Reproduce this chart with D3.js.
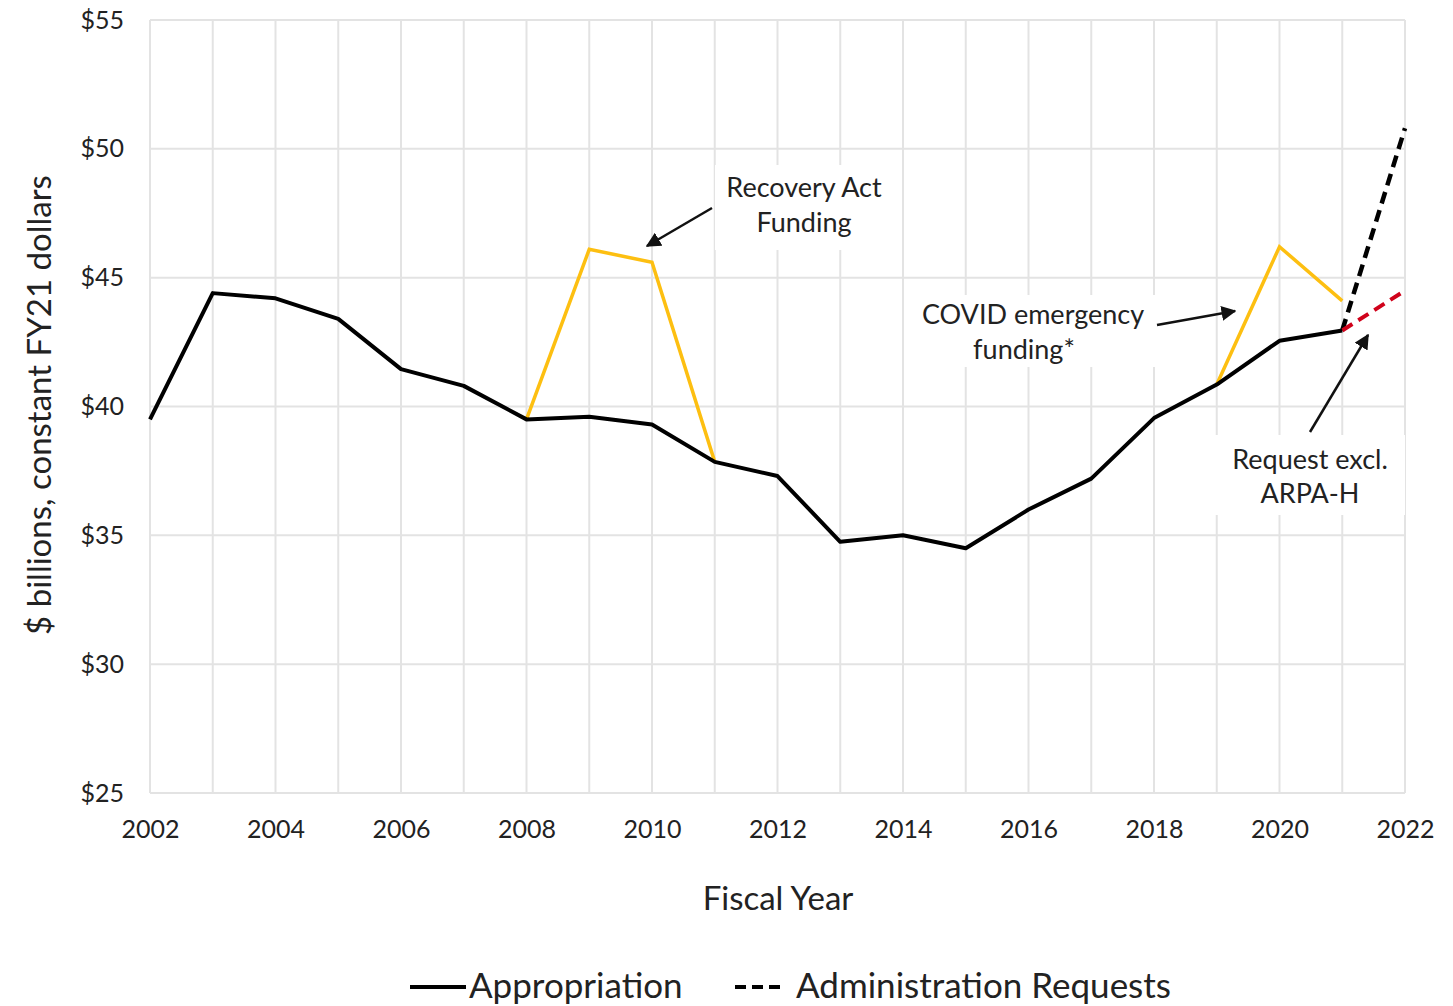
<!DOCTYPE html>
<html>
<head>
<meta charset="utf-8">
<script src="https://cdn.jsdelivr.net/npm/d3@7"></script>
<style>
  body { margin: 0; background: #fff; }
  text { font-family: Lato, "Open Sans", sans-serif; fill: #222; }
</style>
</head>
<body>
<svg id="chart"></svg>
<script>
// data
var years = [2002, 2003, 2004, 2005, 2006, 2007, 2008, 2009, 2010, 2011,
             2012, 2013, 2014, 2015, 2016, 2017, 2018, 2019, 2020, 2021];
var appropriation = [39.5, 44.4, 44.2, 43.4, 41.45, 40.8, 39.5, 39.6, 39.3, 37.85,
                     37.3, 34.75, 35.0, 34.5, 36.0, 37.2, 39.55, 40.85, 42.55, 42.95];
var recoveryYears = [2008, 2009, 2010, 2011];
var recoveryValues = [39.5, 46.1, 45.6, 37.85];
var covidYears = [2019, 2020, 2021];
var covidValues = [40.85, 46.2, 44.1];
var requestYears = [2021, 2022];
var requestValues = [42.95, 50.8];
var requestExclValues = [42.95, 44.5];
var yTicks = [25, 30, 35, 40, 45, 50, 55];
var xTicks = [2002, 2004, 2006, 2008, 2010, 2012, 2014, 2016, 2018, 2020, 2022];

var width = 1453, height = 1006;
var plotLeft = 150, plotRight = 1405, plotTop = 20, plotBottom = 793;

var svg = d3.select('#chart')
    .attr('width', width)
    .attr('height', height);

var x = d3.scaleLinear().domain([2002, 2022]).range([plotLeft, plotRight]);
var y = d3.scaleLinear().domain([25, 55]).range([plotBottom, plotTop]);

// grid
svg.append('g').selectAll('line')
  .data(d3.range(2002, 2023))
  .enter().append('line')
  .attr('x1', d => x(d)).attr('x2', d => x(d))
  .attr('y1', plotTop).attr('y2', plotBottom)
  .attr('stroke', '#e3e3e3').attr('stroke-width', 2);

svg.append('g').selectAll('line')
  .data(yTicks)
  .enter().append('line')
  .attr('x1', plotLeft).attr('x2', plotRight)
  .attr('y1', d => y(d)).attr('y2', d => y(d))
  .attr('stroke', '#e3e3e3').attr('stroke-width', 2);

// white boxes behind annotations
var boxes = [[715, 165, 175, 85], [915, 295, 240, 72], [1215, 435, 190, 80]];
svg.append('g').selectAll('rect')
  .data(boxes)
  .enter().append('rect')
  .attr('x', d => d[0]).attr('y', d => d[1])
  .attr('width', d => d[2]).attr('height', d => d[3])
  .attr('fill', '#fff');

// axes labels
var yAxis = d3.axisLeft(y).tickValues(yTicks).tickSize(0).tickPadding(26)
  .tickFormat(d => '$' + d);
svg.append('g').attr('transform', 'translate(' + plotLeft + ',0)').call(yAxis)
  .call(g => g.select('.domain').remove())
  .selectAll('text').style('font-size', '25px').attr('fill', '#222')
  .attr('font-family', 'Lato, "Open Sans", sans-serif');

var xa = d3.axisBottom(x).tickValues(xTicks).tickSize(0).tickPadding(27)
  .tickFormat(d3.format('d'));
svg.append('g').attr('transform', 'translate(0,' + plotBottom + ')').call(xa)
  .call(g => g.select('.domain').remove())
  .selectAll('text').style('font-size', '25px').attr('fill', '#222')
  .attr('font-family', 'Lato, "Open Sans", sans-serif');

svg.append('text')
  .attr('x', 778).attr('y', 910)
  .attr('text-anchor', 'middle')
  .style('font-size', '33px')
  .text('Fiscal Year');

svg.append('text')
  .attr('transform', 'translate(51,405) rotate(-90)')
  .attr('text-anchor', 'middle')
  .style('font-size', '33px')
  .text('$ billions, constant FY21 dollars');

// lines
var line = d3.line().x(d => x(d[0])).y(d => y(d[1]));

svg.append('path')
  .datum(d3.zip(recoveryYears, recoveryValues))
  .attr('d', line).attr('fill', 'none')
  .attr('stroke', '#fdbf11').attr('stroke-width', 3.5);

svg.append('path')
  .datum(d3.zip(covidYears, covidValues))
  .attr('d', line).attr('fill', 'none')
  .attr('stroke', '#fdbf11').attr('stroke-width', 3.5);

svg.append('path')
  .datum(d3.zip(requestYears, requestValues))
  .attr('d', line).attr('fill', 'none')
  .attr('stroke', '#000').attr('stroke-width', 4.5)
  .attr('stroke-dasharray', '12,7');

svg.append('path')
  .datum(d3.zip(requestYears, requestExclValues))
  .attr('d', line).attr('fill', 'none')
  .attr('stroke', '#d0021b').attr('stroke-width', 4)
  .attr('stroke-dasharray', '12,7');

svg.append('path')
  .datum(d3.zip(years, appropriation))
  .attr('d', line).attr('fill', 'none')
  .attr('stroke', '#000').attr('stroke-width', 4)
  .attr('stroke-linejoin', 'round');

// arrows
svg.append('defs').append('marker')
  .attr('id', 'head')
  .attr('viewBox', '0 0 10 10')
  .attr('refX', 9).attr('refY', 5)
  .attr('markerWidth', 6).attr('markerHeight', 6)
  .attr('orient', 'auto')
  .append('path').attr('d', 'M0,0 L10,5 L0,10 z').attr('fill', '#111');

var arrows = [[712, 208, 647, 246], [1157, 325, 1235, 311], [1310, 432, 1368, 335]];
svg.append('g').selectAll('line')
  .data(arrows)
  .enter().append('line')
  .attr('x1', d => d[0]).attr('y1', d => d[1])
  .attr('x2', d => d[2]).attr('y2', d => d[3])
  .attr('stroke', '#111').attr('stroke-width', 2.5)
  .attr('marker-end', 'url(#head)');

// annotation texts
var notes = [
  [804, 197, 'Recovery Act'], [804, 232, 'Funding'],
  [1033, 324, 'COVID emergency'], [1024, 359, 'funding*'],
  [1310, 469, 'Request excl.'], [1310, 503, 'ARPA-H']
];
svg.append('g').selectAll('text')
  .data(notes)
  .enter().append('text')
  .attr('x', d => d[0]).attr('y', d => d[1])
  .attr('text-anchor', 'middle')
  .style('font-size', '27px')
  .text(d => d[2]);

// legend
var lg = svg.append('g');
lg.append('line').attr('x1', 410).attr('x2', 466).attr('y1', 987).attr('y2', 987)
  .attr('stroke', '#000').attr('stroke-width', 4);
lg.append('text').attr('x', 469).attr('y', 998).style('font-size', '35px').text('Appropriation');
lg.append('line').attr('x1', 735).attr('x2', 785).attr('y1', 987).attr('y2', 987)
  .attr('stroke', '#000').attr('stroke-width', 4).attr('stroke-dasharray', '11,6');
lg.append('text').attr('x', 796).attr('y', 998).style('font-size', '35px').text('Administration Requests');
</script>
</body>
</html>
